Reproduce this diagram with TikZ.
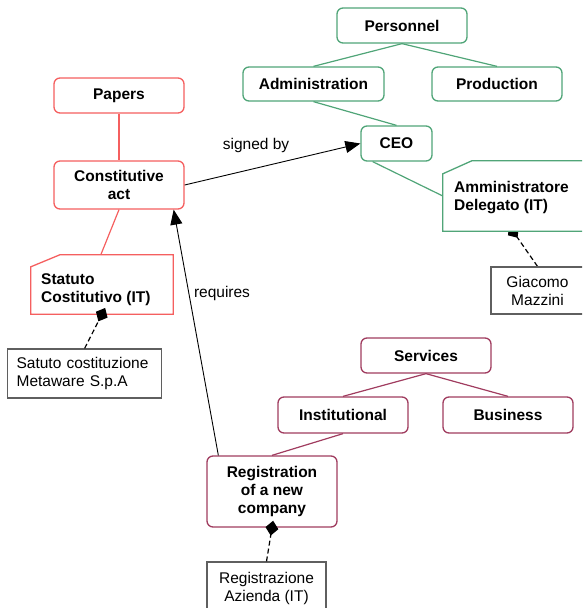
\documentclass[tikz,border=0pt]{standalone}
\usepackage{fontspec}
\setmainfont{Liberation Sans}
\usetikzlibrary{arrows.meta,calc}
\pgfdeclarelayer{background}
\pgfsetlayers{background,main}
\definecolor{cred}{RGB}{245,95,95}
\definecolor{cgreen}{RGB}{80,165,120}
\definecolor{cmaroon}{RGB}{160,60,95}
\definecolor{cgray}{RGB}{95,95,95}
\begin{document}
\begin{tikzpicture}[x=1pt,y=-1pt,
  every node/.style={font=\fontsize{15.5}{18}\selectfont},
  box/.style={draw, rounded corners=6pt, line width=1.3pt, inner sep=0pt, align=center, font=\fontsize{15.5}{18}\selectfont\bfseries, fill=white},
  redbox/.style={box, draw=cred},
  greenbox/.style={box, draw=cgreen},
  maroonbox/.style={box, draw=cmaroon},
  notebox/.style={draw=cgray, line width=1.2pt, inner sep=0pt, fill=white},
  tree/.style={line width=1.2pt},
  rel/.style={line width=0.9pt, -{Triangle[length=15pt,width=12pt]}},
  link/.style={line width=1.2pt, dash pattern=on 5pt off 3pt, -{Diamond[length=15pt,width=13pt]}, shorten >=-7pt},
  lbl/.style={inner sep=0pt}
]
\useasboundingbox (0,0) rectangle (582,608);
\clip (0,0) rectangle (582,608);

% green group
\node[greenbox, minimum width=130pt, minimum height=35pt] (pers) at (402,25.5) {Personnel};
\node[greenbox, minimum width=141pt, minimum height=34pt] (admin) at (313.5,84) {Administration};
\node[greenbox, minimum width=130pt, minimum height=34pt] (prod) at (497,84) {Production};
\node[greenbox, minimum width=71pt, minimum height=35pt] (ceo) at (396.5,143.5) {CEO};
\draw[tree, cgreen] (pers.south) -- (admin.north);
\draw[tree, cgreen] (pers.south) -- (prod.north);
\draw[tree, cgreen] (admin.south) -- (ceo.north);

% Amministratore Delegato
\node[inner sep=0pt, minimum width=140pt, minimum height=70pt] (amm) at (513,196) {};
\draw[tree, cgreen] ($(ceo.south west)!0.17!(ceo.south east)$) -- (amm.west);
\node[notebox, minimum width=93pt, minimum height=47pt, align=center] (giac) at (537.5,290.5) {Giacomo\\Mazzini};
\begin{pgfonlayer}{background}
\draw[link] (giac.north) -- (amm.south);
\end{pgfonlayer}
\draw[cgreen, line width=1.3pt, fill=white] (amm.south west) -- ($(amm.north west)+(0,13)$) -- ($(amm.north west)+(29,0)$) -- (amm.north east) -- (amm.south east) -- cycle;
\node[anchor=west, align=left, font=\fontsize{15.5}{18}\selectfont\bfseries, inner sep=0pt] (ammtext) at (454,198) {Amministratore\\Delegato (IT)};

% red group
\node[redbox, minimum width=130pt, minimum height=35pt] (papers) at (119,95.5) {Papers};
\node[redbox, minimum width=130pt, minimum height=48pt] (const) at (119,185) {Constitutive\\act};
\draw[tree, cred] (papers.south) -- (const.north);
\node[inner sep=0pt, minimum width=142pt, minimum height=59pt] (stat) at (102,284.5) {};
\draw[cred, line width=1.3pt, fill=white] (stat.south west) -- ($(stat.north west)+(0,12)$) -- ($(stat.north west)+(29,0)$) -- (stat.north east) -- (stat.south east) -- cycle;
\node[anchor=west, align=left, font=\fontsize{15.5}{18}\selectfont\bfseries, inner sep=0pt] (stattext) at (41,290) {Statuto\\Costitutivo (IT)};
\draw[tree, cred] (const.south) -- ($(stat.north west)+(70,0)$);
\node[notebox, minimum width=154pt, minimum height=49pt, align=left, anchor=west, text width=136pt, inner xsep=9pt] (note1) at (7,373.5) {Satuto costituzione\\Metaware S.p.A};
\draw[link] (note1.north) -- (stat.south);

% maroon group
\node[maroonbox, minimum width=130pt, minimum height=35pt] (serv) at (426,355.5) {Services};
\node[maroonbox, minimum width=130pt, minimum height=36pt] (inst) at (343,415) {Institutional};
\node[maroonbox, minimum width=130pt, minimum height=36pt] (bus) at (508,415) {Business};
\node[maroonbox, minimum width=130pt, minimum height=71pt] (reg) at (272,491.5) {Registration\\of a new\\company};
\draw[tree, cmaroon] (serv.south) -- (inst.north);
\draw[tree, cmaroon] (serv.south) -- (bus.north);
\draw[tree, cmaroon] (inst.south) -- (reg.north);
\node[notebox, minimum width=119pt, minimum height=52pt, align=center] (note3) at (266.5,588) {Registrazione\\Azienda (IT)};
\draw[link] (note3.north) -- (reg.south);

% relations
\draw[rel] (const.east) -- (ceo.west);
\node[lbl] (signed) at (256,145) {signed by};
\draw[rel] ($(reg.north west)+(12,0)$) -- ($(const.south east)+(-11,0)$);
\node[lbl] (req) at (222,293) {requires};
\end{tikzpicture}
\end{document}
